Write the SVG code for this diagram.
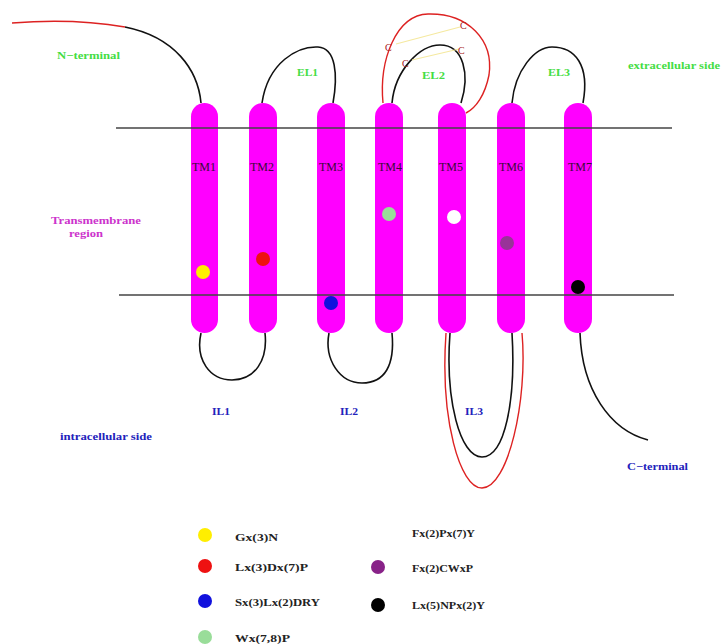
<svg xmlns="http://www.w3.org/2000/svg" width="722" height="644" viewBox="0 0 722 644">
<style>
.bg{fill:#ffffff}
.helix{fill:#ff00ff}
.loop{fill:none;stroke:#111;stroke-width:1.6}
.red{fill:none;stroke:#dd2222;stroke-width:1.4}
.ss{stroke:#f5e9a0;stroke-width:1.2}
.mem{stroke:#444;stroke-width:1.3}
text{font-family:"Liberation Serif","Times New Roman",serif;font-weight:bold}
.tm{font-size:12px;font-weight:normal;fill:#3a0a3a;text-anchor:middle}
.g{font-size:11px;fill:#44dd44}
.b{font-size:11px;fill:#2222bb}
.m{font-size:11px;fill:#cc33cc}
.c{font-size:10px;fill:#aa2222;font-weight:normal}
.lg{font-size:11px;fill:#222}
</style>
<rect class="bg" x="0" y="0" width="722" height="644"/>
<g id="connectors">
<path class="loop" d="M125,27 C175,37 198,70 201,103"/>
<path class="red" d="M12,23 C50,20 90,21 125,27"/>
<path id="EL1" class="loop" d="M262,103 C268,62 298,46 318,47 C336,48 338,75 333,103"/>
<path class="red" d="M383,103 C379,60 396,15 428,14 C468,13 494,40 489,75 C485,95 476,108 466,113"/>
<path class="loop" d="M392,103 C395,70 420,45 440,45 C464,45 470,75 461,103"/>
<line class="ss" x1="396" y1="44" x2="460" y2="27"/>
<line class="ss" x1="412" y1="60" x2="459" y2="49"/>
<text class="c" x="385" y="51">C</text>
<text class="c" x="460" y="29">C</text>
<text class="c" x="402" y="67">C</text>
<text class="c" x="458" y="54">C</text>
<path class="loop" d="M512,103 C515,70 535,47 552,47 C575,47 590,65 583,103"/>
<path class="loop" d="M201,333 C195,360 210,380 232,380 C255,380 268,360 265,333"/>
<path class="loop" d="M329,333 C324,360 340,383 362,383 C385,383 395,365 392,333"/>
<path class="red" d="M446,333 C440,420 460,488 482,488 C508,488 528,400 522,333"/>
<path class="loop" d="M450,333 C445,400 460,457 482,457 C505,457 516,400 512,333"/>
<path class="loop" d="M580,333 C582,390 610,430 648,440"/>
</g>
<g id="TM1"><rect class="helix" x="191" y="103" width="27" height="230" rx="13.5"/><text class="tm" x="204" y="171">TM1</text><circle cx="203" cy="272" r="7" fill="#ffee00"/></g>
<g id="TM2"><rect class="helix" x="249" y="103" width="28" height="230" rx="14"/><text class="tm" x="262" y="171">TM2</text><circle cx="263" cy="259" r="7" fill="#ee1111"/></g>
<g id="TM3"><rect class="helix" x="317" y="103" width="28" height="230" rx="14"/><text class="tm" x="331" y="171">TM3</text><circle cx="331" cy="303" r="7" fill="#1111dd"/></g>
<g id="TM4"><rect class="helix" x="375" y="103" width="28" height="230" rx="14"/><text class="tm" x="390" y="171">TM4</text><circle cx="389" cy="214" r="7" fill="#99dd99"/></g>
<g id="TM5"><rect class="helix" x="438" y="103" width="28" height="230" rx="14"/><text class="tm" x="451" y="171">TM5</text><circle cx="454" cy="217" r="7" fill="#ffffff"/></g>
<g id="TM6"><rect class="helix" x="497" y="103" width="28" height="230" rx="14"/><text class="tm" x="511" y="171">TM6</text><circle cx="507" cy="243" r="7" fill="#993399"/></g>
<g id="TM7"><rect class="helix" x="564" y="103" width="28" height="230" rx="14"/><text class="tm" x="580" y="171">TM7</text><circle cx="578" cy="287" r="7" fill="#000000"/></g>
<g id="membrane">
<line class="mem" x1="116" y1="128" x2="672" y2="128"/>
<line class="mem" x1="119" y1="295" x2="674" y2="295"/>
</g>
<g id="labels">
<text class="g" x="57" y="59" textLength="63" lengthAdjust="spacingAndGlyphs">N−terminal</text>
<text class="g" x="297" y="76" textLength="21" lengthAdjust="spacingAndGlyphs">EL1</text>
<text class="g" x="422" y="79" textLength="23" lengthAdjust="spacingAndGlyphs">EL2</text>
<text class="g" x="548" y="76" textLength="22" lengthAdjust="spacingAndGlyphs">EL3</text>
<text class="g" x="628" y="69" textLength="92" lengthAdjust="spacingAndGlyphs">extracellular side</text>
<text class="m" x="51" y="224" textLength="90" lengthAdjust="spacingAndGlyphs">Transmembrane</text>
<text class="m" x="69" y="237" textLength="34" lengthAdjust="spacingAndGlyphs">region</text>
<text class="b" x="212" y="415" textLength="18" lengthAdjust="spacingAndGlyphs">IL1</text>
<text class="b" x="340" y="415" textLength="18" lengthAdjust="spacingAndGlyphs">IL2</text>
<text class="b" x="465" y="415" textLength="18" lengthAdjust="spacingAndGlyphs">IL3</text>
<text class="b" x="60" y="440" textLength="92" lengthAdjust="spacingAndGlyphs">intracellular side</text>
<text class="b" x="627" y="470" textLength="61" lengthAdjust="spacingAndGlyphs">C−terminal</text>
</g>
<g id="legend">
<circle cx="205" cy="535" r="7" fill="#ffee00"/>
<text class="lg" x="235" y="541" textLength="43" lengthAdjust="spacingAndGlyphs">Gx(3)N</text>
<circle cx="205" cy="566" r="7" fill="#ee1111"/>
<text class="lg" x="235" y="571" textLength="73" lengthAdjust="spacingAndGlyphs">Lx(3)Dx(7)P</text>
<circle cx="205" cy="601" r="7" fill="#1111dd"/>
<text class="lg" x="235" y="606" textLength="85" lengthAdjust="spacingAndGlyphs">Sx(3)Lx(2)DRY</text>
<circle cx="205" cy="637" r="7" fill="#99dd99"/>
<text class="lg" x="235" y="642" textLength="55" lengthAdjust="spacingAndGlyphs">Wx(7,8)P</text>
<text class="lg" x="412" y="537" textLength="63" lengthAdjust="spacingAndGlyphs">Fx(2)Px(7)Y</text>
<circle cx="378" cy="567" r="7" fill="#882288"/>
<text class="lg" x="412" y="572" textLength="61" lengthAdjust="spacingAndGlyphs">Fx(2)CWxP</text>
<circle cx="378" cy="605" r="7" fill="#000000"/>
<text class="lg" x="412" y="609" textLength="73" lengthAdjust="spacingAndGlyphs">Lx(5)NPx(2)Y</text>
</g>
</svg>
